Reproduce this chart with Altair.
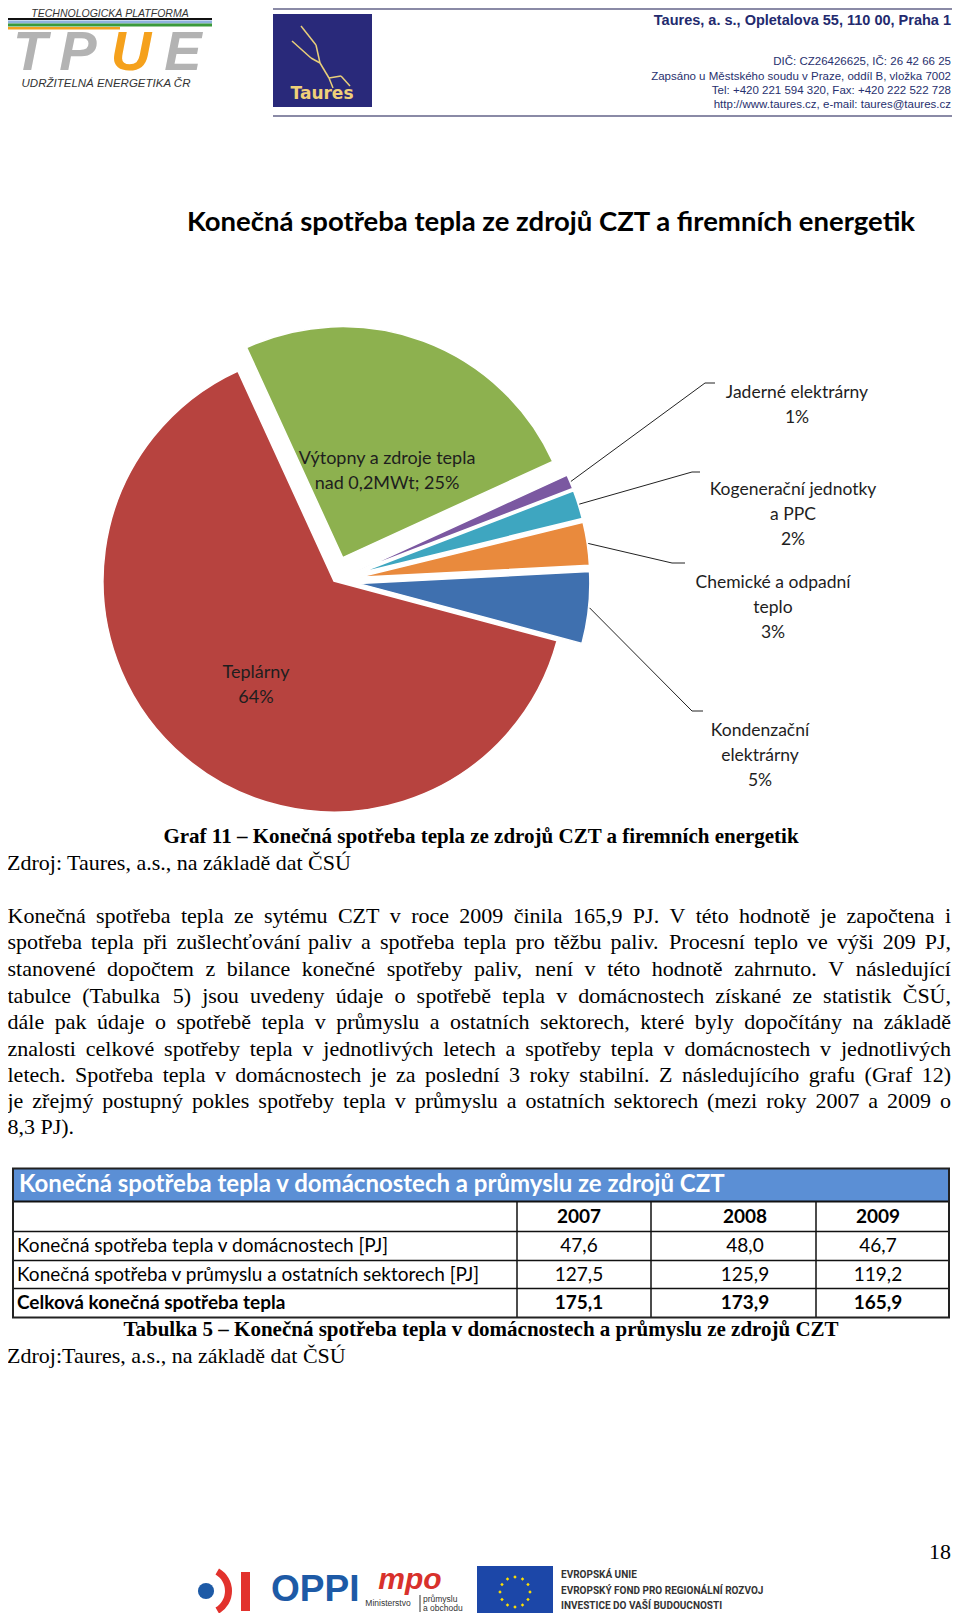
import math
import unicodedata
import altair as alt
import pandas as pd

OFF = 8          # page margin
W, H = 944, 1605
RX = 951         # right edge of the text block on the page

# ---------------- data ----------------
categories = ["Teplárny", "Výtopny a zdroje tepla nad 0,2MWt", "Jaderné elektrárny",
              "Kogenerační jednotky a PPC", "Chemické a odpadní teplo", "Kondenzační elektrárny"]
shares = [64, 25, 1, 2, 3, 5]
label_names = ["Teplárny", "Výtopny a zdroje tepla\nnad 0,2MWt;", "Jaderné elektrárny",
               "Kogenerační jednotky\na PPC", "Chemické a odpadní\nteplo", "Kondenzační\nelektrárny"]
label_seps = ["\n", " ", "\n", "\n", "\n", "\n"]
slice_colors = ["#B7433F", "#8DB14F", "#7B58A1", "#3EA6C0", "#E98A3D", "#3F70AF"]

table_title = "Konečná spotřeba tepla v domácnostech a průmyslu ze zdrojů CZT"
table_years = ["2007", "2008", "2009"]
table_rows = ["Konečná spotřeba tepla v domácnostech [PJ]",
              "Konečná spotřeba v průmyslu a ostatních sektorech [PJ]",
              "Celková konečná spotřeba tepla"]
households = [47.6, 48.0, 46.7]
industry = [127.5, 125.9, 119.2]
total_heat = [175.1, 173.9, 165.9]

paragraph_lines = [
    "Konečná spotřeba tepla ze sytému CZT v roce 2009 činila 165,9 PJ. V této hodnotě je započtena i",
    "spotřeba tepla při zušlechťování paliv a spotřeba tepla pro těžbu paliv. Procesní teplo ve výši 209 PJ,",
    "stanovené dopočtem z bilance konečné spotřeby paliv, není v této hodnotě zahrnuto. V následující",
    "tabulce (Tabulka 5) jsou uvedeny údaje o spotřebě tepla v domácnostech získané ze statistik ČSÚ,",
    "dále pak údaje o spotřebě tepla v průmyslu a ostatních sektorech, které byly dopočítány na základě",
    "znalosti celkové spotřeby tepla v jednotlivých letech a spotřeby tepla v domácnostech v jednotlivých",
    "letech. Spotřeba tepla v domácnostech je za poslední 3 roky stabilní. Z následujícího grafu (Graf 12)",
    "je zřejmý postupný pokles spotřeby tepla v průmyslu a ostatních sektorech (mezi roky 2007 a 2009 o",
    "8,3 PJ).",
]

# ---------------- helpers ----------------
def XY(fx="x", fy="y"):
    return dict(x=alt.X(f"{fx}:Q", scale=None, axis=None),
                y=alt.Y(f"{fy}:Q", scale=None, axis=None))


def text_layer(rows, font="Lato", size=16, color="black", weight="normal",
               align="left", baseline="middle", italic=False, line_height=None):
    df = pd.DataFrame([{"x": r[0] - OFF, "y": r[1] - OFF, "t": r[2]} for r in rows])
    kw = dict(font=font, fontSize=size, color=color, fontWeight=weight,
              align=align, baseline=baseline)
    if italic:
        kw["fontStyle"] = "italic"
    if line_height:
        kw["lineHeight"] = line_height
        kw["lineBreak"] = "\n"
    return alt.Chart(df).mark_text(**kw).encode(text="t:N", **XY())


def rect_layer(rows, **mark):
    df = pd.DataFrame([{"x": a - OFF, "y": b - OFF, "x2": c - OFF, "y2": d - OFF}
                       for a, b, c, d in rows])
    return alt.Chart(df).mark_rect(**mark).encode(x2="x2:Q", y2="y2:Q", **XY())


def rule_layer(rows, **mark):
    df = pd.DataFrame([{"x": a - OFF, "y": b - OFF, "x2": c - OFF, "y2": d - OFF}
                       for a, b, c, d in rows])
    return alt.Chart(df).mark_rule(**mark).encode(x2="x2:Q", y2="y2:Q", **XY())


# Times (Liberation Serif) advance widths per 1000 em
TW = {" ": 250, "!": 333, "%": 833, "(": 333, ")": 333, ",": 250, "-": 333, ".": 250,
      "/": 278, ":": 278, ";": 278, "[": 333, "]": 333,
      "A": 722, "B": 667, "C": 667, "D": 722, "E": 611, "F": 556, "G": 722, "H": 722,
      "I": 333, "J": 389, "K": 722, "L": 611, "M": 889, "N": 722, "O": 722, "P": 556,
      "Q": 722, "R": 667, "S": 556, "T": 611, "U": 722, "V": 722, "W": 944, "X": 722,
      "Y": 722, "Z": 611,
      "a": 444, "b": 500, "c": 444, "d": 500, "e": 444, "f": 333, "g": 500, "h": 500,
      "i": 278, "j": 278, "k": 500, "l": 278, "m": 778, "n": 500, "o": 500, "p": 500,
      "q": 500, "r": 333, "s": 389, "t": 278, "u": 500, "v": 500, "w": 722, "x": 500,
      "y": 500, "z": 444}


def word_width(word, size):
    tot = 0
    for ch in word:
        if ch == "ť":
            tot += 345
            continue
        base = unicodedata.normalize("NFD", ch)[0]
        tot += TW.get(base, 500)
    return tot / 1000 * size


# ---------------- header ----------------
layers = []
layers.append(rule_layer([(273, 9, 952, 9), (273, 116, 952, 116)], color="#8a8aa6", strokeWidth=2))
# TPUE logo
layers.append(text_layer([(110, 13.5, "TECHNOLOGICKÁ PLATFORMA")], font="Liberation Sans",
                         size=10.5, italic=True, align="center", color="#333333"))
layers.append(rect_layer([(5, 18, 212, 20)], color="#111111"))
layers.append(rect_layer([(5, 20.5, 212, 23.5)], color="#8fb2de"))
layers.append(rect_layer([(5, 23.5, 212, 26.5)], color="#3b9a3b"))
layers.append(rect_layer([(5, 27, 120, 29.5)], color="#f4a11f"))
layers.append(text_layer([(30, 70, "T"), (78, 70, "P"), (183, 70, "E")], font="Liberation Sans",
                         size=56, weight="bold", italic=True, align="center",
                         baseline="alphabetic", color="#b3b3b3"))
layers.append(text_layer([(131, 70, "U")], font="Liberation Sans", size=56, weight="bold",
                         italic=True, align="center", baseline="alphabetic", color="#f5a11c"))
layers.append(text_layer([(106, 84, "UDRŽITELNÁ ENERGETIKA ČR")], font="Liberation Sans",
                         size=11.5, italic=True, align="center", color="#333333"))
# Taures logo
layers.append(rect_layer([(273, 14, 372, 107)], color="#29297a"))
layers.append(rule_layer([(301, 26, 316, 45), (316, 45, 320, 63), (320, 63, 329, 78),
                          (329, 78, 341, 76), (341, 76, 350, 86), (329, 78, 333, 88),
                          (292, 41, 311, 58), (311, 58, 320, 63)],
                         color="#e9cf7a", strokeWidth=1.5))
layers.append(text_layer([(322, 94, "Taures")], font="DejaVu Sans", size=17, weight="bold",
                         align="center", color="#f0d078"))
layers.append(text_layer([(RX, 21, "Taures, a. s., Opletalova 55, 110 00, Praha 1")],
                         font="Liberation Sans", size=14.5, weight="bold", align="right",
                         color="#232a6e"))
layers.append(text_layer([(RX, 62, "DIČ: CZ26426625, IČ: 26 42 66 25"),
                          (RX, 76.5, "Zapsáno u Městského soudu v Praze, oddíl B, vložka 7002"),
                          (RX, 91, "Tel: +420 221 594 320, Fax: +420 222 522 728"),
                          (RX, 104.5, "http://www.taures.cz, e-mail: taures@taures.cz")],
                         font="Liberation Sans", size=11.5, align="right", color="#27306e"))

# ---------------- chart title ----------------
layers.append(text_layer([(551, 223, "Konečná spotřeba tepla ze zdrojů CZT a firemních energetik")],
                         font="Lato", size=27.5, weight="bold", align="center"))

# ---------------- pie ----------------
START = math.radians(105)
R = 231
EXPLODE = 25
CX, CY = 334 - OFF, 581 - OFF

pie_df = pd.DataFrame({"category": categories, "share": shares,
                       "order": list(range(len(categories)))})


def pie_base():
    return (alt.Chart(pie_df)
            .transform_joinaggregate(total="sum(share)")
            .transform_window(cum="sum(share)", sort=[alt.SortField("order")], frame=[None, 0])
            .transform_calculate(t0=f"{START} + 2*PI*(datum.cum - datum.share)/datum.total")
            .transform_calculate(t1=f"{START} + 2*PI*datum.cum/datum.total")
            .transform_calculate(mid="(datum.t0 + datum.t1)/2")
            .transform_calculate(ex=f"datum.order == 0 ? 0 : {EXPLODE}")
            .transform_calculate(cx=f"{CX} + datum.ex*sin(datum.mid)")
            .transform_calculate(cy=f"{CY} - datum.ex*cos(datum.mid)"))


arcs = pie_base().mark_arc(radius=R, stroke="white", strokeWidth=1.5).encode(
    theta=alt.Theta("t0:Q", scale=None),
    theta2=alt.Theta2("t1:Q"),
    color=alt.Color("category:N", scale=alt.Scale(domain=categories, range=slice_colors),
                    legend=None),
    **XY("cx", "cy"))
layers.append(arcs)

lead_df = pd.DataFrame({"category": categories[2:],
                        "bx": [705 - OFF, 692 - OFF, 672 - OFF, 692 - OFF],
                        "by": [383 - OFF, 472 - OFF, 563 - OFF, 711 - OFF],
                        "hx": [715 - OFF, 700 - OFF, 685 - OFF, 703 - OFF]})
leaders = (pie_base()
           .transform_lookup(lookup="category",
                             from_=alt.LookupData(lead_df, "category", ["bx", "by", "hx"]))
           .transform_filter("isValid(datum.bx)")
           .transform_calculate(sx=f"datum.cx + {R + 1}*sin(datum.mid)")
           .transform_calculate(sy=f"datum.cy - {R + 1}*cos(datum.mid)"))
layers.append(leaders.mark_rule(color="#222222", strokeWidth=1).encode(
    x2=alt.X2("bx:Q"), y2=alt.Y2("by:Q"), **XY("sx", "sy")))
layers.append(leaders.mark_rule(color="#222222", strokeWidth=1).encode(
    x2=alt.X2("hx:Q"), **XY("bx", "by")))

label_pos = [(256, 672.5), (387, 458.5), (797, 393), (793, 490), (773, 583), (760, 730.5)]
label_size = [18, 18, 17.5, 17.5, 17.5, 17.5]
slice_labels = [f"{n}{s}{v}%" for n, s, v in zip(label_names, label_seps, shares)]
for p, t, s in zip(label_pos, slice_labels, label_size):
    layers.append(text_layer([(p[0], p[1], t)], font="Lato", size=s, align="center",
                             color="#1e1e1e", line_height=25))

# ---------------- captions & paragraph ----------------
layers.append(text_layer([(481, 837, "Graf 11 – Konečná spotřeba tepla ze zdrojů CZT a firemních energetik")],
                         font="Liberation Serif", size=21, weight="bold", align="center"))
layers.append(text_layer([(7, 863, "Zdroj: Taures, a.s., na základě dat ČSÚ")],
                         font="Liberation Serif", size=22))

PSIZE = 22
LEFT, RIGHT = 7.5, RX
line_y = [916, 942, 969, 996, 1022, 1049, 1075, 1101, 1127]
word_rows = []
for i, (line, y) in enumerate(zip(paragraph_lines, line_y)):
    words = line.split(" ")
    widths = [word_width(w, PSIZE) for w in words]
    if i == len(paragraph_lines) - 1 or len(words) == 1:
        gap = 0.25 * PSIZE
    else:
        gap = max(2.0, (RIGHT - LEFT - sum(widths)) / (len(words) - 1))
    x = LEFT
    for w, wd in zip(words, widths):
        word_rows.append((x, y, w))
        x += wd + gap
layers.append(text_layer(word_rows, font="Liberation Serif", size=PSIZE))

# ---------------- table ----------------
TL, TR = 13, 949
T_TOP, T_HEAD, T_R1, T_R2, T_R3, T_BOT = 1168.5, 1201.5, 1231.5, 1260.5, 1288.5, 1317.5
COLS = [517, 651, 816]
VAL_X = [579, 745, 878]
layers.append(rect_layer([(TL, T_TOP, TR, T_HEAD)], color="#5B8FD5"))
layers.append(rule_layer([(TL, T_R1, TR, T_R1), (TL, T_R2, TR, T_R2), (TL, T_R3, TR, T_R3)],
                         color="#111111", strokeWidth=1.5))
layers.append(rule_layer([(c, T_HEAD, c, T_BOT) for c in COLS], color="#111111", strokeWidth=1.5))
layers.append(rule_layer([(TL, T_HEAD, TR, T_HEAD)], color="#111111", strokeWidth=2))
layers.append(rect_layer([(TL, T_TOP, TR, T_BOT)], filled=False, stroke="#222222", strokeWidth=2))
layers.append(text_layer([(19, 1185, table_title)], font="Lato", size=24, weight="bold",
                         color="white"))
layers.append(text_layer([(x, 1217, yr) for x, yr in zip(VAL_X, table_years)],
                         font="Lato", size=19, weight="bold", align="center"))
fmt = lambda v: f"{v:.1f}".replace(".", ",")
row_y = [1246, 1274.5, 1303]
layers.append(text_layer([(17, row_y[0], table_rows[0]), (17, row_y[1], table_rows[1])],
                         font="Lato", size=19))
layers.append(text_layer([(17, row_y[2], table_rows[2])], font="Lato", size=19, weight="bold"))
layers.append(text_layer([(x, row_y[0], fmt(v)) for x, v in zip(VAL_X, households)] +
                         [(x, row_y[1], fmt(v)) for x, v in zip(VAL_X, industry)],
                         font="Lato", size=19, align="center"))
layers.append(text_layer([(x, row_y[2], fmt(v)) for x, v in zip(VAL_X, total_heat)],
                         font="Lato", size=19, weight="bold", align="center"))
layers.append(text_layer([(481, 1330, "Tabulka 5 – Konečná spotřeba tepla v domácnostech a průmyslu ze zdrojů CZT")],
                         font="Liberation Serif", size=21, weight="bold", align="center"))
layers.append(text_layer([(7, 1356, "Zdroj:Taures, a.s., na základě dat ČSÚ")],
                         font="Liberation Serif", size=22))

# ---------------- footer ----------------
layers.append(text_layer([(RX, 1552, "18")], font="Liberation Serif", size=22, align="right"))
# OPPI icon
layers.append(alt.Chart(pd.DataFrame({"x": [206 - OFF], "y": [1591 - OFF]})).mark_circle(
    size=260, color="#1d5aa6", opacity=1).encode(**XY()))
layers.append(alt.Chart(pd.DataFrame({"x": [206 - OFF], "y": [1591 - OFF],
                                      "a": [math.radians(30)], "b": [math.radians(150)]}))
              .mark_arc(radius=26, radius2=19, color="#e2322d")
              .encode(theta=alt.Theta("a:Q", scale=None), theta2=alt.Theta2("b:Q"), **XY()))
layers.append(rect_layer([(241, 1572, 250, 1611)], color="#e2322d"))
layers.append(text_layer([(271, 1590, "OPPI")], font="Liberation Sans", size=37,
                         weight="bold", color="#1d5aa6"))
# MPO logo
layers.append(text_layer([(410, 1580, "mpo")], font="Liberation Sans", size=30, italic=True,
                         weight="bold", align="center", color="#d8312c"))
layers.append(text_layer([(388, 1603, "Ministerstvo")], font="Liberation Sans", size=8.5,
                         align="center", color="#333333"))
layers.append(rule_layer([(420, 1595, 420, 1612)], color="#333333", strokeWidth=1))
layers.append(text_layer([(423, 1599, "průmyslu"), (423, 1608, "a obchodu")],
                         font="Liberation Sans", size=8.5, color="#333333"))
# EU flag
layers.append(rect_layer([(477, 1566, 553, 1618)], color="#1c47a8"))
layers.append(alt.Chart(alt.sequence(0, 12, as_="i"))
              .transform_calculate(x=f"{515 - OFF} + 15*cos(2*PI*datum.i/12)",
                                   y=f"{1592 - OFF} + 15*sin(2*PI*datum.i/12)")
              .mark_point(shape="diamond", filled=True, size=12, color="#ffe100", opacity=1)
              .encode(**XY()))
layers.append(text_layer([(561, 1575, "EVROPSKÁ UNIE"),
                          (561, 1591, "EVROPSKÝ FOND PRO REGIONÁLNÍ ROZVOJ"),
                          (561, 1606, "INVESTICE DO VAŠÍ BUDOUCNOSTI")],
                         font="Roboto", size=10, weight="bold", color="#333333"))

chart = (alt.layer(*layers)
         .properties(width=W, height=H, padding=0, autosize="none", background="white")
         .configure_view(stroke=None))
chart.save("out.html", embed_options={"renderer": "svg", "actions": False})
